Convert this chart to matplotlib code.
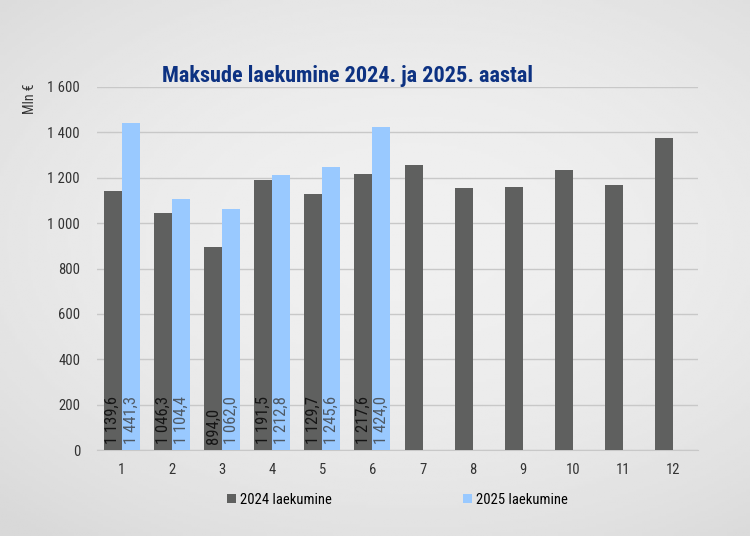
import matplotlib.pyplot as plt
import numpy as np

months = ["1", "2", "3", "4", "5", "6", "7", "8", "9", "10", "11", "12"]
vals_2024 = [1139.6, 1046.3, 894.0, 1191.5, 1129.7, 1217.6, 1258, 1155, 1158, 1236, 1168, 1375]
vals_2025 = [1441.3, 1104.4, 1062.0, 1212.8, 1245.6, 1424.0]
yticks = [0, 200, 400, 600, 800, 1000, 1200, 1400, 1600]

dark = "#5f605f"
blue = "#99c9ff"
plt.rcParams["font.family"] = ["Roboto Condensed", "Roboto", "DejaVu Sans"]


def fmt_tick(v):
    return f"{v:,.0f}".replace(",", " ")


def fmt_val(v):
    return f"{v:,.1f}".replace(",", " ").replace(".", ",")


fig = plt.figure(figsize=(7.5, 5.36), dpi=100)

# soft grey background
bg = fig.add_axes([0, 0, 1, 1], zorder=0)
yy, xx = np.mgrid[0:1:200j, 0:1:280j]
shade = 0.94 - 0.09 * np.clip(np.hypot((xx - 0.55) / 0.8, (yy - 0.45) / 0.7), 0, 1) ** 2
bg.imshow(shade, cmap="gray", vmin=0, vmax=1, aspect="auto", extent=[0, 1, 0, 1])
bg.axis("off")

ax = fig.add_axes([0.129, 0.1604, 0.802, 0.6773], zorder=1)
ax.patch.set_alpha(0)

x = np.arange(len(months))
w = 0.36
b1 = ax.bar(x[:len(vals_2024)] - w / 2, vals_2024, w, color=dark, label="2024 laekumine", zorder=3)
b2 = ax.bar(x[:len(vals_2025)] + w / 2, vals_2025, w, color=blue, label="2025 laekumine", zorder=3)

for i, v in enumerate(vals_2025):
    ax.text(x[i] - w / 2, 25, fmt_val(vals_2024[i]), rotation=90, ha="center", va="bottom",
            fontsize=12, color="#151515", zorder=4)
    ax.text(x[i] + w / 2, 25, fmt_val(v), rotation=90, ha="center", va="bottom",
            fontsize=12, color="#4f5a66", zorder=4)

ax.set_xlim(-0.5, len(months) - 0.5)
ax.set_ylim(0, 1600)
ax.set_xticks(x)
ax.set_xticklabels(months)
ax.set_yticks(yticks)
ax.set_yticklabels([fmt_tick(v) for v in yticks])
ax.tick_params(length=0, labelsize=10.5, colors="#333333", pad=9)
ax.tick_params(axis="y", pad=12)
ax.grid(axis="y", color="#c8c8c8", linewidth=1, zorder=1)
for s in ["top", "right", "left"]:
    ax.spines[s].set_visible(False)
ax.spines["bottom"].set_color("#c8c8c8")

fig.text(0.463, 0.858, "Maksude laekumine 2024. ja 2025. aastal", ha="center", va="center",
         fontsize=16, fontweight="bold", color="#0d3282")
fig.text(0.04, 0.815, "Mln €", rotation=90, ha="center", va="center", fontsize=10, color="#333333")

fig.legend(handles=[b1, b2], loc="center", bbox_to_anchor=(0.53, 0.068), ncol=2, frameon=False,
           fontsize=10.5, handlelength=0.6, handleheight=0.6, handletextpad=0.3, columnspacing=9)

fig.savefig("out.png", dpi=100)
